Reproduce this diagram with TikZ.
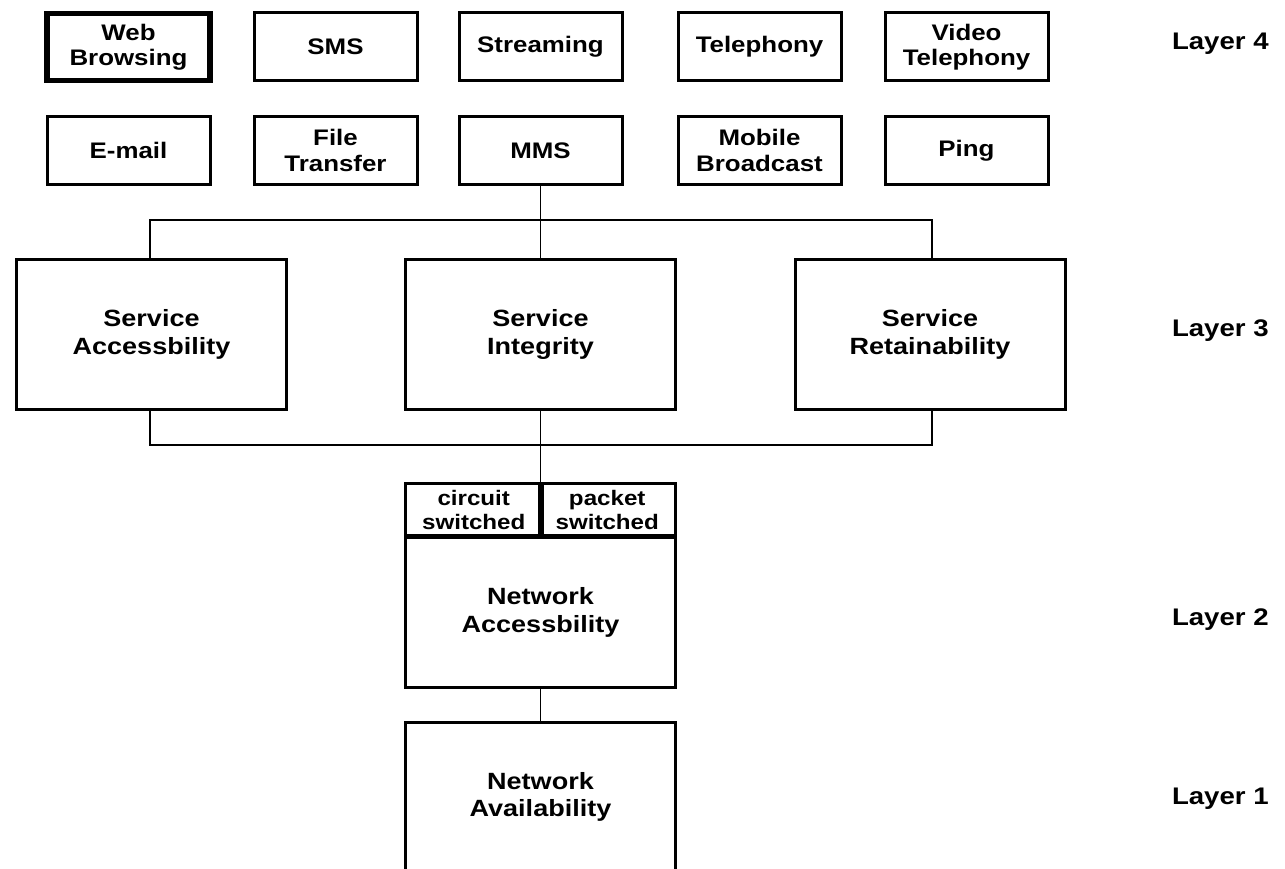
\documentclass[tikz,border=0pt]{standalone}
\usepackage{fontspec}
\setmainfont{Liberation Sans}[FakeStretch=1.15]
\begin{document}
\begin{tikzpicture}[x=1pt,y=-1pt,
  every node/.style={inner sep=0pt,outer sep=0pt,align=center},
  svc/.style={draw,line width=3pt,minimum width=163pt,minimum height=68pt,
    font=\bfseries\fontsize{22.5}{25.5}\selectfont},
  websvc/.style={svc,line width=5.5pt,minimum width=163pt,minimum height=67pt},
  bigbox/.style={draw,line width=3pt,minimum width=270pt,minimum height=150pt,
    font=\bfseries\fontsize{23.5}{27.5}\selectfont},
  halfbox/.style={draw,line width=3pt,minimum width=136.5pt,minimum height=52pt,
    font=\bfseries\fontsize{21}{24}\selectfont},
  conn/.style={line width=1.6pt},
  layerlbl/.style={anchor=west,font=\bfseries\fontsize{24}{28}\selectfont}]
\useasboundingbox (0,0) rectangle (1285,869);
% Layer 4 services
\node[websvc] (web) at (128.5,47) {Web\\Browsing};
\node[svc] (sms) at (335.5,47) {SMS};
\node[svc] (stream) at (540.5,47) {Streaming};
\node[svc] (tel) at (759.5,47) {Telephony};
\node[svc] (vtel) at (966.5,47) {Video\\Telephony};
\node[svc] (email) at (128.5,150.5) {E-mail};
\node[svc] (ftp) at (335.5,150.5) {File\\Transfer};
\node[svc] (mms) at (540.5,150.5) {MMS};
\node[svc] (mbc) at (759.5,150.5) {Mobile\\Broadcast};
\node[svc] (ping) at (966.5,150.5) {Ping};
% Layer 3
\node[bigbox] (sacc) at (151.5,334.5) {Service\\Accessbility};
\node[bigbox] (sint) at (540.5,334.5) {Service\\Integrity};
\node[bigbox] (sret) at (930,334.5) {Service\\Retainability};
% Layer 2
\node[halfbox] (cs) at (473.75,509.5) {circuit\\switched};
\node[halfbox] (ps) at (607.25,509.5) {packet\\switched};
\node[bigbox] (nacc) at (540.5,612.5) {Network\\Accessbility};
% Layer 1
\node[bigbox] (nav) at (540.5,797) {Network\\Availability};
% junctions
\coordinate (j1) at (540.5,220);
\coordinate (j2) at (540.5,445);
\coordinate (acct) at (150,258);
\coordinate (rett) at (932,258);
\coordinate (accb) at (150,411);
\coordinate (retb) at (932,411);
\coordinate (split) at (540.5,482);
% connectors
\draw[conn] (mms.south) -- (j1);
\draw[conn] (acct) |- (j1) -| (rett);
\draw[conn] (j1) -- (sint.north);
\draw[conn] (accb) |- (j2) -| (retb);
\draw[conn] (sint.south) -- (j2);
\draw[conn] (j2) -- (split);
\draw[conn] (nacc.south) -- (nav.north);
% layer labels
\node[layerlbl] (l4) at (1172,44) {Layer 4};
\node[layerlbl] (l3) at (1172,331) {Layer 3};
\node[layerlbl] (l2) at (1172,620) {Layer 2};
\node[layerlbl] (l1) at (1172,799) {Layer 1};
\end{tikzpicture}
\end{document}
